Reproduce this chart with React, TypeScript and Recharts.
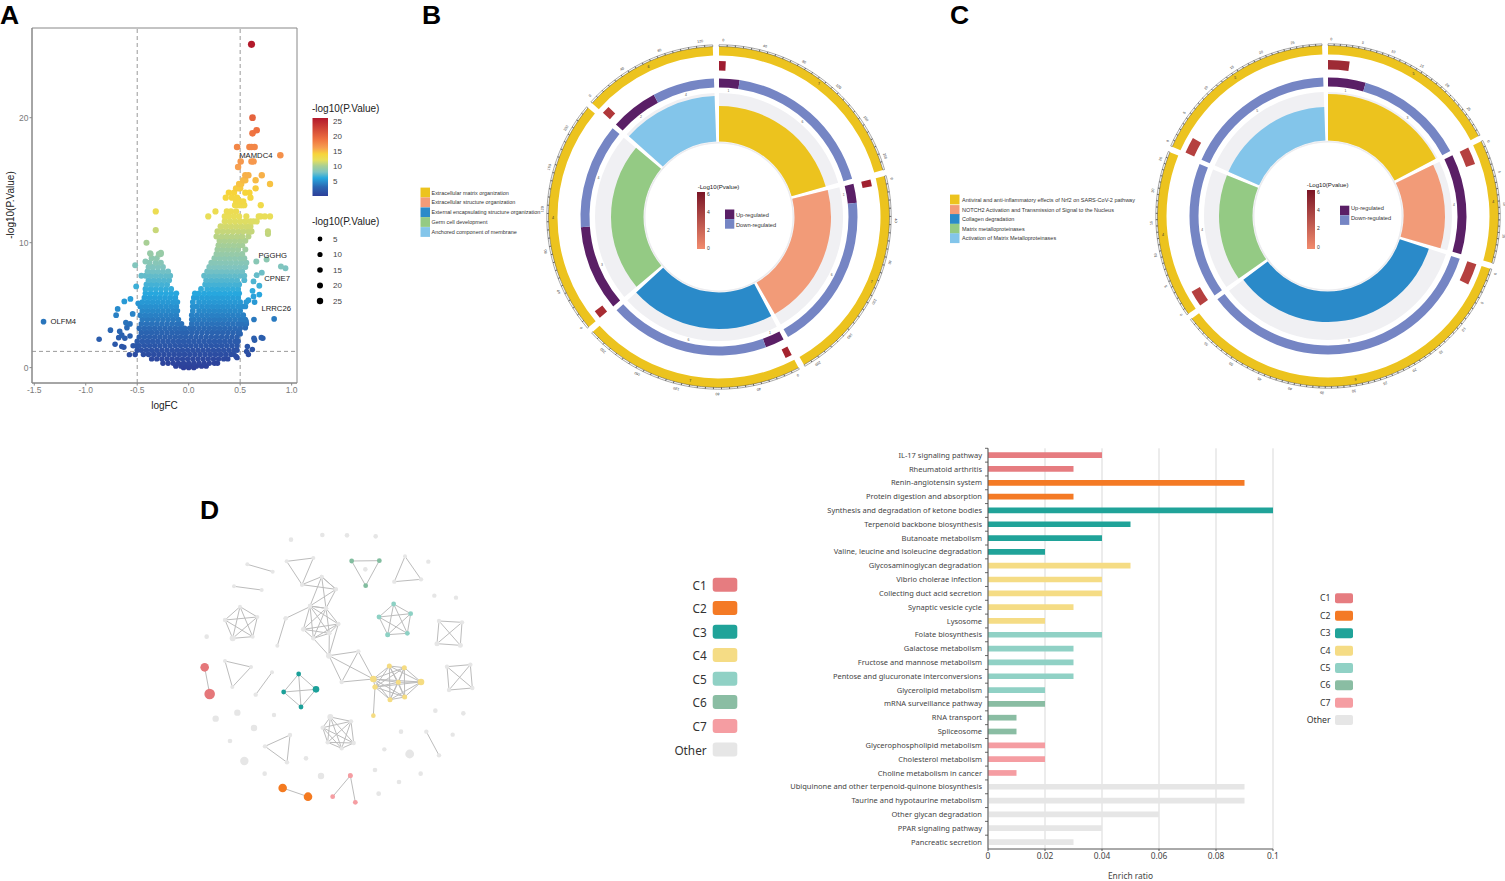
import {
  BarChart,
  Bar,
  Cell,
  XAxis,
  YAxis,
  CartesianGrid,
  ScatterChart,
  Scatter,
  ReferenceLine,
  ReferenceArea,
  PieChart,
  Pie,
} from "recharts";

const SANS = "'Liberation Sans', Arial, sans-serif";
const UI = "'Noto Sans', 'Open Sans', sans-serif";

// ---- panel A: volcano, rows of logFC values at one -log10(p) level
const volcanoRows: [number, number[]][] = [
  [0, [-.05, 0, .05]],
  [.12, [-.125, -.075, -.025, .025, .075, .125, .17]],
  [.35, [-.25, -.2, -.15, -.1, -.05, 0, .05, .1, .15, .2, .25, .28]],
  [.7, [-.36, -.31, -.26, -.21, -.16, -.11, -.06, -.01, .04, .09, .14, .19, .24, .29, .34, .38]],
  [1.05, [-.52, -.44, -.39, -.34, -.29, -.24, -.19, -.14, -.09, -.04, .01, .06, .11, .16, .21, .26, .31, .36, .41, .44, .58]],
  [1.4, [-.5, -.46, -.41, -.36, -.31, -.26, -.21, -.16, -.11, -.06, -.01, .04, .09, .14, .19, .24, .29, .34, .39, .44, .47]],
  [1.75, [-.54, -.51, -.48, -.43, -.38, -.33, -.28, -.23, -.18, -.13, -.08, -.03, .02, .07, .12, .17, .22, .27, .32, .37, .42, .47]],
  [2.1, [-.5, -.45, -.4, -.35, -.3, -.25, -.2, -.15, -.1, -.05, 0, .05, .1, .15, .2, .25, .3, .35, .4, .45, .48]],
  [2.45, [-.48, -.43, -.38, -.33, -.28, -.23, -.18, -.13, -.08, -.03, .02, .07, .12, .17, .22, .27, .32, .37, .42, .47]],
  [2.8, [-.46, -.41, -.36, -.31, -.26, -.21, -.16, -.11, -.06, -.02, .03, .08, .13, .18, .23, .28, .33, .38, .43, .48]],
  [3.15, [-.48, -.43, -.38, -.33, -.28, -.23, -.18, -.13, -.08, -.04, .01, .05, .1, .15, .2, .25, .3, .35, .4, .45, .5]],
  [3.5, [-.46, -.41, -.36, -.31, -.26, -.21, -.16, -.11, -.07, .03, .08, .13, .18, .23, .28, .33, .38, .43, .48, .52]],
  [3.85, [-.45, -.4, -.35, -.3, -.25, -.2, -.15, -.1, .03, .05, .1, .15, .2, .25, .3, .35, .4, .45, .5, .55]],
  [4.2, [-.47, -.42, -.37, -.32, -.27, -.22, -.17, -.12, .03, .08, .13, .18, .23, .28, .33, .38, .43, .48, .53]],
  [4.55, [-.45, -.4, -.35, -.3, -.25, -.2, -.15, -.11, .04, .1, .15, .2, .25, .3, .35, .4, .45, .5]],
  [4.9, [-.47, -.42, -.37, -.32, -.27, -.22, -.17, -.12, .04, .08, .13, .18, .23, .28, .33, .38, .43, .48, .52, .55]],
  [5.25, [-.45, -.4, -.35, -.3, -.25, -.2, -.15, -.11, .04, .1, .15, .2, .25, .3, .35, .4, .45, .5, .56]],
  [5.6, [-.43, -.38, -.33, -.28, -.23, -.18, -.13, .05, .08, .13, .18, .23, .28, .33, .38, .43, .48]],
  [5.95, [-.42, -.37, -.32, -.27, -.22, -.17, -.12, .06, .1, .15, .2, .25, .3, .35, .4, .45, .49]],
  [6.3, [-.42, -.37, -.32, -.27, -.22, -.17, .12, .18, .23, .28, .33, .38, .43, .48]],
  [6.65, [-.41, -.36, -.31, -.26, -.21, .16, .2, .25, .3, .35, .4, .45, .49]],
  [7, [-.39, -.34, -.29, -.24, -.19, .17, .22, .27, .32, .37, .42, .47, .54]],
  [7.35, [-.46, -.42, -.37, -.32, -.27, -.22, -.18, .15, .2, .25, .3, .35, .4, .45, .5, .54]],
  [7.7, [-.4, -.35, -.3, -.25, -.2, .18, .22, .27, .32, .37, .42, .47, .52]],
  [8.05, [-.39, -.35, -.3, -.25, .2, .25, .3, .35, .4, .45, .5, .55]],
  [8.4, [-.38, -.32, -.27, .22, .26, .31, .36, .41, .46, .51, .56]],
  [8.75, [-.36, -.31, .25, .3, .35, .4, .45, .5, .54]],
  [9.1, [-.37, -.29, -.27, .27, .32, .37, .42, .47, .52]],
  [9.45, [.28, .33, .38, .43, .48, .55]],
  [9.8, [.29, .34, .39, .44, .49, .52]],
  [10.15, [.3, .35, .4, .45, .5, .55]],
  [10.5, [.27, .32, .37, .42, .47, .52, .58]],
  [10.9, [.28, .33, .38, .43, .48, .53, .58, .61, .77]],
  [11.3, [.31, .36, .41, .46, .51, .56, .6]],
  [11.7, [.35, .4, .45, .5, .55, .6, .63, .66]],
  [12.1, [.19, .35, .39, .44, .49, .56, .68, .7, .74, .79]],
  [12.5, [.26, .37, .41, .46]],
  [13, [.45, .48, .5, .52, .54, .7]],
  [13.3, [.46, .5, .53]],
  [13.6, [.36, .42, .47, .6]],
  [14, [.39, .44, .55, .59]],
  [14.35, [.46, .48, .5, .65]],
  [14.7, [.49, .51, .79]],
  [15, [.53, .55, .65]],
  [15.4, [.55, .58, .71]],
  [16.05, [.48]],
  [16.5, [.505, .61, .63]],
  [17, [.89]],
  [17.65, [.47, .59, .61, .64]],
  [18.75, [.62]],
  [19, [.66]],
  [20, [.62]],
  [25.87, [.61]],
];

// points off the main cloud
const volcanoOutliers: [number, number][] = [
  [-1.41, 3.68], [-.87, 2.27], [-.76, 3], [-.715, 1.87], [-.69, 4.7], [-.705, 4.2], [-.625, 5.3], [-.566, 5.5],
  [-.61, 3.6], [-.57, 3.5], [-.6, 3.2], [-.67, 2.9], [-.65, 2.6], [-.68, 2.4], [-.62, 2.35], [-.65, 1.7], [-.63, 1.63],
  [-.57, 2.53], [-.576, 1.04], [-.544, 4.3], [-.51, 6.5], [-.49, 5.15], [-.52, 8.2], [-.41, 10], [-.375, 9.15],
  [-.285, 9.05], [-.27, 9.2], [-.32, 11], [-.32, 12.5], [-.42, 8.5],
  [.657, 8.5], [.757, 8.65], [.896, 8.1], [.94, 7.95], [.71, 7.6], [.66, 7.4], [.63, 6.9], [.686, 6.55], [.62, 6.15],
  [.686, 5.85], [.63, 5.7], [.58, 5.4], [.64, 5.25], [.634, 3.85], [.83, 3.9], [.557, 3.7], [.705, 2.4], [.72, 2.35],
  [.634, 2.35], [.64, 2.2], [.57, 1.7], [.618, 1.45], [.563, 1.3], [.46, .9], [.47, .8], [.55, 3.2], [.5, 2.7], [.49, 2.9],
  [.6, 10.9], [.77, 10.7], [.56, 3.5], [.53, 3.9],
];

const geneLabels = [
  { x: .652, y: 17, name: "MAMDC4" },
  { x: .817, y: 8.94, name: "PGGHG" },
  { x: .859, y: 7.1, name: "CPNE7" },
  { x: .85, y: 4.75, name: "LRRC26" },
  { x: -1.218, y: 3.68, name: "OLFM4" },
];

const volcanoXTicks = [-1.5, -1, -.5, 0, .5, 1];
const volcanoYTicks = [0, 10, 20];
const colorLegendTicks = [5, 10, 15, 20, 25];
const sizeLegendTicks = [5, 10, 15, 20, 25];

const volcanoStops: [number, string][] = [
  [0, "#2d3f99"], [3, "#2a66b2"], [6, "#27a8df"], [8, "#7fc4c0"], [10, "#a8cf95"],
  [12, "#e8df5a"], [14, "#f7d43a"], [16, "#f7a050"], [19, "#ee7040"], [26, "#b2182b"],
];

const hexToRgb = (h: string) => [1, 3, 5].map((i) => parseInt(h.slice(i, i + 2), 16));

function volcanoColor(y: number) {
  for (let i = 1; i < volcanoStops.length; i++) {
    const [y0, c0] = volcanoStops[i - 1];
    const [y1, c1] = volcanoStops[i];
    if (y <= y1) {
      const t = (y - y0) / (y1 - y0);
      const a = hexToRgb(c0);
      const b = hexToRgb(c1);
      return `rgb(${a.map((v, k) => Math.round(v + (b[k] - v) * t)).join(",")})`;
    }
  }
  return volcanoStops[volcanoStops.length - 1][1];
}

const volcanoData = [
  ...volcanoRows.flatMap(([y, xs]) => xs.map((x) => ({ x, y }))),
  ...volcanoOutliers.map(([x, y]) => ({ x, y })),
].sort((a, b) => a.y - b.y);

function VolcanoDot(props: any) {
  const { cx, cy, payload } = props;
  return <circle cx={cx} cy={cy} r={2.7 + payload.y * 0.033} fill={volcanoColor(payload.y)} />;
}

function GeneLabel(props: any) {
  const { cx, cy, payload } = props;
  return (
    <text x={cx} y={cy} textAnchor="middle" dominantBaseline="central" fontSize={7.7} fontFamily={SANS} fill="#222">
      {payload.name}
    </text>
  );
}

function VolcanoPanel() {
  const dash = { stroke: "#9a9a9a", strokeDasharray: "4 3", strokeWidth: 1 };
  const tick = { fontSize: 8.5, fill: "#7a7a7a", fontFamily: SANS };
  return (
    <div style={{ position: "absolute", left: 0, top: 0 }}>
      <ScatterChart width={400} height={420} margin={{ top: 28, left: 0, right: 103, bottom: 0 }}>
        <XAxis
          type="number"
          dataKey="x"
          domain={[-1.522, 1.052]}
          ticks={volcanoXTicks}
          allowDataOverflow
          height={37}
          tickSize={2.5}
          tickMargin={1}
          tick={tick}
          stroke="#888"
          tickFormatter={(v) => Number(v).toFixed(1)}
          label={{ value: "logFC", position: "insideBottom", offset: 11, fontSize: 10, fill: "#222", fontFamily: SANS }}
        />
        <YAxis
          type="number"
          dataKey="y"
          domain={[-1.23, 27.18]}
          ticks={volcanoYTicks}
          allowDataOverflow
          width={32}
          tickSize={2.5}
          tickMargin={1}
          tick={tick}
          stroke="#888"
        />
        <ReferenceArea x1={-1.522} x2={1.052} y1={-1.23} y2={27.18} fill="none" stroke="#888" strokeWidth={1} />
        <Scatter data={volcanoData} shape={VolcanoDot} isAnimationActive={false} />
        <ReferenceLine x={-.5} {...dash} />
        <ReferenceLine x={.5} {...dash} />
        <ReferenceLine y={1.3} {...dash} />
        <Scatter data={geneLabels} shape={GeneLabel} isAnimationActive={false} />
      </ScatterChart>
    </div>
  );
}

// ---- panels B and C: circular enrichment plots, all values in degrees of arc
const bSpans = [74, 74, 75.5, 80, 46];
const bWedgeOuter = [111, 112, 112, 108, 121];
const bUp = [8.6, 8, 8, 36, 20];
const bDown = [65.4, 66, 67.5, 44, 26];
const bUpCounts = ["1", "1", "1", "3", "2"];
const bDownCounts = ["6", "6", "6", "4", "4"];
const bPWidth = [2.5, 2.5, 2.5, 3, 3];
const bPColor = ["#9e1c30", "#a0202f", "#a5242f", "#a82c33", "#b0383a"];
const bTickCounts = [27, 27, 28, 29, 17];
const bCountLabels = ["7", "7", "7", "4", "6"];

const cSpans = [62, 42, 125, 57, 64];
const cWedgeOuter = [122, 117, 106, 109, 109];
const cUp = [15.8, 42, 0, 0, 0];
const cDown = [46.2, 0, 125, 57, 64];
const cUpCounts = ["1", "4", "", "", ""];
const cDownCounts = ["3", "", "9", "4", "5"];
const cPWidth = [8, 6.5, 8, 6, 6];
const cPColor = ["#9e2a35", "#b5403f", "#b5403f", "#b5403f", "#b5403f"];
const cTickCounts = [30, 20, 60, 27, 30];
const cCountLabels = ["5", "4", "9", "4", "5"];

const wedgeColors = ["#ecc31e", "#f29b78", "#2a8ac9", "#94ca84", "#83c5ea"];
const UP_COLOR = "#5a1f66";
const DOWN_COLOR = "#7585c4";
const TRACK_COLOR = "#f0f0f3";

function tickLabel(p: any) {
  const text = p.payload?.text ?? p.text;
  if (!text) return <g />;
  const rad = (-p.midAngle * Math.PI) / 180;
  const r = p.outerRadius + 4.5;
  const x = p.cx + r * Math.cos(rad);
  const y = p.cy + r * Math.sin(rad);
  return (
    <text x={x} y={y} fontSize={3.6} fill="#333" fontFamily={SANS} textAnchor="middle" dominantBaseline="central"
      transform={`rotate(${90 - p.midAngle} ${x} ${y})`}>
      {text}
    </text>
  );
}

function midLabel(p: any) {
  const text = p.payload?.text ?? p.text;
  const rad = (-p.midAngle * Math.PI) / 180;
  const r = (p.innerRadius + p.outerRadius) / 2;
  return (
    <text x={p.cx + r * Math.cos(rad)} y={p.cy + r * Math.sin(rad)} fontSize={3.6} fill="#333" fontFamily={SANS}
      textAnchor="middle" dominantBaseline="central">
      {text}
    </text>
  );
}

function innerLabel(p: any) {
  const text = p.payload?.text ?? p.text;
  if (!text) return <g />;
  const rad = (-p.midAngle * Math.PI) / 180;
  const r = p.innerRadius - 3;
  return (
    <text x={p.cx + r * Math.cos(rad)} y={p.cy + r * Math.sin(rad)} fontSize={3.4} fill="#555" fontFamily={SANS}
      textAnchor="middle" dominantBaseline="central">
      {text}
    </text>
  );
}

interface DonutProps {
  cx: number;
  cy: number;
  spans: number[];
  gap: number;
  wedgeOuter: number[];
  up: number[];
  down: number[];
  upCounts: string[];
  downCounts: string[];
  pWidth: number[];
  pColor: string[];
  tickCounts: number[];
  tickStep: number;
  countLabels: string[];
}

function Donut({ cx, cy, spans, gap, wedgeOuter, up, down, upCounts, downCounts, pWidth, pColor, tickCounts, tickStep, countLabels }: DonutProps) {
  const size = 380;
  const common = { dataKey: "value", isAnimationActive: false, stroke: "none", labelLine: false };
  let cursor = 0;
  const sectors = spans.map((span, i) => {
    const a0 = cursor;
    cursor += span + gap;
    return { i, span, a0, start: 90 - a0, end: 90 - a0 - span };
  });
  return (
    <div style={{ position: "absolute", left: cx - size / 2, top: cy - size / 2 }}>
      <PieChart width={size} height={size} margin={{ top: 0, right: 0, bottom: 0, left: 0 }}>
        <Pie {...common} data={[{ value: 1 }]} startAngle={90} endAngle={-270} innerRadius={73.5} outerRadius={75} fill="#ececef" />
        {sectors.map(({ i, start, end }) => (
          <Pie key={`tr${i}`} {...common} data={[{ value: 1 }]} startAngle={start} endAngle={end} innerRadius={75} outerRadius={124} fill={TRACK_COLOR} />
        ))}
        {sectors.map(({ i, start, end }) => (
          <Pie key={`w${i}`} {...common} data={[{ value: 1 }]} startAngle={start} endAngle={end} innerRadius={75.5} outerRadius={wedgeOuter[i]} fill={wedgeColors[i]} />
        ))}
        {sectors.map(({ i, start, end }) => (
          <Pie
            key={`ud${i}`}
            {...common}
            data={[
              { value: up[i], fill: UP_COLOR, text: upCounts[i] },
              { value: down[i], fill: DOWN_COLOR, text: downCounts[i] },
            ].filter((d) => d.value > 0)}
            startAngle={start}
            endAngle={end}
            innerRadius={129.5}
            outerRadius={138.5}
            label={innerLabel}
          />
        ))}
        {sectors.map(({ i, start }) => (
          <Pie key={`p${i}`} {...common} data={[{ value: 1 }]} startAngle={start} endAngle={start - pWidth[i]} innerRadius={146.5} outerRadius={156} fill={pColor[i]} />
        ))}
        {sectors.map(({ i, start, end }) => (
          <Pie
            key={`o${i}`}
            {...common}
            data={[{ value: 1, text: countLabels[i] }]}
            startAngle={start}
            endAngle={end}
            innerRadius={161.5}
            outerRadius={170.5}
            fill={wedgeColors[0]}
            label={midLabel}
          />
        ))}
        {sectors.map(({ i, start, end }) => (
          <Pie
            key={`t${i}`}
            {...common}
            data={Array.from({ length: tickCounts[i] }, (_, j) => ({
              value: 1,
              text: j % 5 === 0 ? String((j / 5) * tickStep) : "",
            }))}
            startAngle={start}
            endAngle={end}
            innerRadius={170.5}
            outerRadius={172.2}
            fill="none"
            stroke="#222"
            strokeWidth={0.4}
            label={tickLabel}
          />
        ))}
      </PieChart>
    </div>
  );
}

// ---- panel D: enrichment network, positions in a 960 x 990 layout box
const networkCliques: { color: string; nodes: [number, number, number][] }[] = [
  { color: "#e6e6e6", nodes: [[202, 223, 2], [278, 245, 2]] },
  { color: "#e6e6e6", nodes: [[162, 289, 2], [245, 300, 2]] },
  { color: "#e6e6e6", nodes: [[320, 214, 2], [400, 204, 2], [366, 284, 2]] },
  { color: "#e6e6e6", nodes: [[366, 284, 2], [425, 260, 2], [468, 298, 2]] },
  { color: "#e6e6e6", nodes: [[425, 260, 2], [468, 298, 2], [390, 348, 2.2], [438, 355, 2.2]] },
  { color: "#e6e6e6", nodes: [[390, 348, 2.2], [438, 355, 2.2], [475, 402, 2.2], [370, 418, 2.4], [400, 445, 2.2], [448, 430, 2.2]] },
  { color: "#e6e6e6", nodes: [[317, 385, 2.2], [390, 350, 2]] },
  { color: "#e6e6e6", nodes: [[317, 385, 2.2], [292, 467, 2]] },
  { color: "#e6e6e6", nodes: [[447, 497, 2.6], [475, 402, 2]] },
  { color: "#e6e6e6", nodes: [[447, 497, 2.6], [400, 445, 2]] },
  { color: "#e6e6e6", nodes: [[447, 497, 2.6], [448, 430, 2]] },
  { color: "#e6e6e6", nodes: [[447, 497, 2.6], [535, 484, 2.2], [485, 576, 2.2], [580, 567, 3]] },
  { color: "#e6e6e6", nodes: [[180, 350, 2], [232, 381, 2], [218, 440, 2], [158, 445, 3], [135, 390, 2.2]] },
  { color: "#e6e6e6", nodes: [[135, 513, 2], [213, 531, 2], [157, 591, 2]] },
  { color: "#e6e6e6", nodes: [[276, 547, 2], [227, 614, 2.2]] },
  { color: "#e6e6e6", nodes: [[675, 199, 2], [723, 268, 2.2], [643, 275, 2.2]] },
  { color: "#e6e6e6", nodes: [[777, 393, 2.2], [846, 397, 2.2], [841, 466, 2.5], [771, 461, 2.5]] },
  { color: "#e6e6e6", nodes: [[801, 530, 2.2], [871, 524, 2.2], [877, 594, 2.2], [807, 600, 2.2]] },
  { color: "#e6e6e6", nodes: [[451, 681, 3], [513, 694, 2.2], [521, 759, 2.2], [485, 775, 2.2], [443, 757, 2.2], [428, 713, 2.2]] },
  { color: "#e6e6e6", nodes: [[330, 735, 2.2], [255, 769, 2.2], [321, 817, 2.2]] },
  { color: "#e6e6e6", nodes: [[739, 725, 2.2], [777, 796, 2.2]] },
  { color: "#f5dc82", nodes: [[580, 567, 3.3], [585, 591, 2.5], [628, 528, 2.5], [673, 533, 2.5], [655, 577, 2.5], [723, 576, 3.3], [630, 629, 2.5], [674, 621, 2.5]] },
  { color: "#f5dc82", nodes: [[585, 591, 2.5], [580, 677, 2.3]] },
  { color: "#e5777a", nodes: [[74, 532, 4.3], [89, 612, 5.3]] },
  { color: "#1ba099", nodes: [[356, 552, 2.4], [408, 598, 3.3], [363, 651, 2.4], [311, 606, 2.4]] },
  { color: "#82bd9f", nodes: [[515, 213, 2.4], [598, 212, 2.4], [557, 287, 2.4]] },
  { color: "#8dd1c4", nodes: [[641, 342, 2.4], [692, 371, 2.4], [682, 430, 2.4], [623, 434, 2.5], [597, 381, 2.4]] },
  { color: "#f47a20", nodes: [[308, 894, 4.3], [384, 920, 4.3]] },
  { color: "#f59da2", nodes: [[511, 857, 2.4], [458, 920, 2.4]] },
  { color: "#f59da2", nodes: [[511, 857, 2.4], [526, 937, 2.4]] },
];

const networkSingles: [number, number, number][] = [
  [333, 149, 2.3], [427, 135, 2.3], [501, 136, 2.3], [587, 139, 2.3], [556, 238, 2.3], [745, 215, 2.2], [763, 317, 2.2],
  [828, 323, 2.2], [80, 440, 2.3], [107, 686, 3.2], [172, 668, 3.2], [222, 714, 3.2], [282, 675, 2.2], [150, 753, 2.3],
  [193, 813, 4.2], [254, 851, 2.3], [378, 805, 2.3], [423, 858, 3.2], [766, 662, 2.3], [850, 670, 2.3], [663, 725, 2.3],
  [818, 734, 2.2], [613, 778, 2.2], [689, 792, 4.4], [585, 840, 2.3], [722, 851, 2.3], [657, 876, 2.3], [596, 911, 2.4],
];

const networkEdges = networkCliques.flatMap((c) =>
  c.nodes.flatMap((a, i) => c.nodes.slice(i + 1).map((b) => [a, b])),
);

function NetDot(props: any) {
  const { cx, cy, payload, fill } = props;
  return <circle cx={cx} cy={cy} r={payload.r} fill={fill} />;
}
const NoDot = () => <g />;

function NetworkPanel() {
  return (
    <div style={{ position: "absolute", left: 180, top: 490 }}>
      <ScatterChart width={320} height={330} margin={{ top: 0, right: 0, bottom: 0, left: 0 }}>
        <XAxis type="number" dataKey="x" domain={[0, 960]} hide />
        <YAxis type="number" dataKey="y" domain={[0, 990]} reversed hide />
        {networkEdges.map(([a, b], i) => (
          <Scatter
            key={`e${i}`}
            data={[{ x: a[0], y: a[1] }, { x: b[0], y: b[1] }]}
            shape={NoDot}
            line={{ stroke: "#bcbcbc", strokeWidth: 1 }}
            isAnimationActive={false}
          />
        ))}
        <Scatter
          data={networkSingles.map(([x, y, r]) => ({ x, y, r }))}
          fill="#e6e6e6"
          shape={NetDot}
          isAnimationActive={false}
        />
        {networkCliques.map((c, i) => (
          <Scatter
            key={`n${i}`}
            data={c.nodes.map(([x, y, r]) => ({ x, y, r }))}
            fill={c.color}
            shape={NetDot}
            isAnimationActive={false}
          />
        ))}
      </ScatterChart>
    </div>
  );
}

// ---- panel D right: enrichment bars
const pathwayNames = [
  "IL-17 signaling pathway",
  "Rheumatoid arthritis",
  "Renin-angiotensin system",
  "Protein digestion and absorption",
  "Synthesis and degradation of ketone bodies",
  "Terpenoid backbone biosynthesis",
  "Butanoate metabolism",
  "Valine, leucine and isoleucine degradation",
  "Glycosaminoglycan degradation",
  "Vibrio cholerae infection",
  "Collecting duct acid secretion",
  "Synaptic vesicle cycle",
  "Lysosome",
  "Folate biosynthesis",
  "Galactose metabolism",
  "Fructose and mannose metabolism",
  "Pentose and glucuronate interconversions",
  "Glycerolipid metabolism",
  "mRNA surveillance pathway",
  "RNA transport",
  "Spliceosome",
  "Glycerophospholipid metabolism",
  "Cholesterol metabolism",
  "Choline metabolism in cancer",
  "Ubiquinone and other terpenoid-quinone biosynthesis",
  "Taurine and hypotaurine metabolism",
  "Other glycan degradation",
  "PPAR signaling pathway",
  "Pancreatic secretion",
];
const enrichRatios = [
  .04, .03, .09, .03, .1, .05, .04, .02, .05, .04, .04, .03, .02, .04, .03, .03, .03, .02, .02, .01, .01, .02, .02, .01,
  .09, .09, .06, .04, .03,
];
const pathwayClusters = [0, 0, 1, 1, 2, 2, 2, 2, 3, 3, 3, 3, 3, 4, 4, 4, 4, 4, 5, 5, 5, 6, 6, 6, 7, 7, 7, 7, 7];
const clusterNames = ["C1", "C2", "C3", "C4", "C5", "C6", "C7", "Other"];
const clusterColors = ["#e67c80", "#f47a25", "#20a399", "#f5dc85", "#90d1c5", "#8abda3", "#f59da2", "#e6e6e6"];
const ratioTicks = [0, .02, .04, .06, .08, .1];

const barData = pathwayNames.map((name, i) => ({ name, ratio: enrichRatios[i] }));

function PathwayTick(props: any) {
  const { x, y, payload } = props;
  return (
    <g>
      <line x1={x + 3} x2={x + 6} y1={y - 6.9} y2={y - 6.9} stroke="#444" strokeWidth={0.8} />
      <text x={x} y={y - 0.5} textAnchor="end" dominantBaseline="central" fontSize={7.5} fontFamily={UI} fill="#444">
        {payload.value}
      </text>
    </g>
  );
}

function BarPanel() {
  return (
    <div style={{ position: "absolute", left: 780, top: 440 }}>
      <BarChart layout="vertical" data={barData} width={520} height={441} margin={{ top: 8.3, right: 27, bottom: 0, left: 0 }}>
        <CartesianGrid horizontal={false} stroke="#d9d9d9" />
        <XAxis
          type="number"
          domain={[0, .1]}
          ticks={ratioTicks}
          height={32}
          stroke="#555"
          tickSize={2}
          tickMargin={2}
          tick={{ fontSize: 8.4, fill: "#444", fontFamily: UI }}
          label={{ value: "Enrich ratio", position: "insideBottom", offset: 2, fontSize: 8.4, fill: "#444", fontFamily: UI }}
        />
        <YAxis
          type="category"
          dataKey="name"
          width={208}
          interval={0}
          tickSize={0}
          tickMargin={6}
          stroke="#555"
          tick={PathwayTick}
        />
        <Bar dataKey="ratio" barSize={5.7} isAnimationActive={false}>
          {barData.map((d, i) => (
            <Cell key={d.name} fill={clusterColors[pathwayClusters[i]]} />
          ))}
        </Bar>
      </BarChart>
    </div>
  );
}

// ---- legends and panel letters
const bLegendNames = [
  "Extracellular matrix organization",
  "Extracellular structure organization",
  "External encapsulating structure organization",
  "Germ cell development",
  "Anchored component of membrane",
];
const cLegendNames = [
  "Antiviral and anti-inflammatory effects of Nrf2 on SARS-CoV-2 pathway",
  "NOTCH2 Activation and Transmission of Signal to the Nucleus",
  "Collagen degradation",
  "Matrix metalloproteinases",
  "Activation of Matrix Metalloproteinases",
];
const panelLetters: [string, number, number][] = [["A", 0, 24], ["B", 422, 24], ["C", 950, 24], ["D", 200, 519]];
const pvalueTicks = [6, 4, 2, 0];

function DonutLegend({ names, ys, x, tx, fs }: { names: string[]; ys: number[]; x: number; tx: number; fs: number }) {
  return (
    <>
      {names.map((n, i) => (
        <g key={n}>
          <rect x={x} y={ys[i] - 4.9} width={9.5} height={9.8} fill={wedgeColors[i]} />
          <text x={tx} y={ys[i]} fontSize={fs} dominantBaseline="central" fontFamily={SANS} fill="#333">{n}</text>
        </g>
      ))}
    </>
  );
}

function CenterLegend({ id, tx, ty, gx, gy, gh, tickYs, sx, sy, labelYs }: any) {
  return (
    <>
      <text x={tx} y={ty} fontSize={6.1} textAnchor="middle" dominantBaseline="central" fontFamily={SANS} fill="#222">-Log10(Pvalue)</text>
      <defs>
        <linearGradient id={id} x1="0" y1="0" x2="0" y2="1">
          <stop offset="0%" stopColor="#7a1526" />
          <stop offset="100%" stopColor="#f28c6e" />
        </linearGradient>
      </defs>
      <rect x={gx} y={gy} width={8} height={gh} fill={`url(#${id})`} />
      {pvalueTicks.map((t, i) => (
        <text key={t} x={gx + 10} y={tickYs[i]} fontSize={5} dominantBaseline="central" fontFamily={SANS} fill="#333">{t}</text>
      ))}
      <rect x={sx} y={sy} width={9.3} height={9.6} fill={UP_COLOR} />
      <rect x={sx} y={sy + 9.6} width={9.3} height={9.6} fill={DOWN_COLOR} />
      <text x={sx + 11} y={labelYs[0]} fontSize={5.7} dominantBaseline="central" fontFamily={SANS} fill="#333">Up-regulated</text>
      <text x={sx + 11} y={labelYs[1]} fontSize={5.7} dominantBaseline="central" fontFamily={SANS} fill="#333">Down-regulated</text>
    </>
  );
}

function ClusterLegend({ tx, sx, sw, sh, ys, fs, rx }: { tx: number; sx: number; sw: number; sh: number; ys: number[]; fs: number; rx: number }) {
  return (
    <>
      {clusterNames.map((n, i) => (
        <g key={n}>
          <text x={tx} y={ys[i]} fontSize={fs} textAnchor="end" dominantBaseline="central" fontFamily={UI} fill="#333">{n}</text>
          <rect x={sx} y={ys[i] - sh / 2} width={sw} height={sh} rx={rx} fill={clusterColors[i]} />
        </g>
      ))}
    </>
  );
}

function Overlay() {
  return (
    <svg width={1505} height={881} style={{ position: "absolute", left: 0, top: 0 }}>
      {panelLetters.map(([l, x, y]) => (
        <text key={l} x={x} y={y} fontSize={26.5} fontWeight={700} fontFamily={SANS} fill="#000">{l}</text>
      ))}

      {/* panel A */}
      <text x={10.5} y={205} fontSize={10} textAnchor="middle" dominantBaseline="central" fontFamily={SANS} fill="#222" transform="rotate(-90 10.5 205)">-log10(P.Value)</text>
      <text x={312} y={108.5} fontSize={10} dominantBaseline="central" fontFamily={SANS} fill="#222">-log10(P.Value)</text>
      <defs>
        <linearGradient id="volcanoScale" x1="0" y1="1" x2="0" y2="0">
          {volcanoStops.map(([v, c]) => (
            <stop key={v} offset={`${(v / 26) * 100}%`} stopColor={c} />
          ))}
        </linearGradient>
      </defs>
      <rect x={312.5} y={118} width={15.5} height={78} fill="url(#volcanoScale)" />
      {colorLegendTicks.map((t, i) => (
        <text key={t} x={333} y={181 - i * 15} fontSize={8} dominantBaseline="central" fontFamily={SANS} fill="#444">{t}</text>
      ))}
      <text x={312} y={221} fontSize={10} dominantBaseline="central" fontFamily={SANS} fill="#222">-log10(P.Value)</text>
      {sizeLegendTicks.map((t, i) => (
        <g key={t}>
          <circle cx={320} cy={239 + i * 15.5} r={2.4 + i * 0.2} fill="#000" />
          <text x={333} y={239 + i * 15.5} fontSize={8} dominantBaseline="central" fontFamily={SANS} fill="#444">{t}</text>
        </g>
      ))}

      {/* panels B, C */}
      <DonutLegend names={bLegendNames} ys={[192.5, 202.3, 212.3, 222, 232]} x={420.5} tx={431.5} fs={5.45} />
      <CenterLegend id="pB" tx={718.5} ty={186} gx={697} gy={192} gh={57} tickYs={[193.5, 212, 230, 248]} sx={725} sy={209.5} labelYs={[214.5, 224.5]} />
      <DonutLegend names={cLegendNames} ys={[199.5, 210, 219, 228.7, 238.2]} x={950} tx={962} fs={5.5} />
      <CenterLegend id="pC" tx={1327.7} ty={184.3} gx={1307} gy={190} gh={59} tickYs={[191.7, 210, 228, 246.7]} sx={1340} sy={205.7} labelYs={[208.3, 218]} />

      {/* cluster legends */}
      <ClusterLegend tx={706.7} sx={712.7} sw={24.6} sh={14} rx={3} fs={11.8} ys={[584.7, 608, 631.7, 655, 678.7, 702, 726, 749.5]} />
      <ClusterLegend tx={1330.5} sx={1335} sw={18} sh={10} rx={2} fs={8.7} ys={[598.3, 615.7, 633.3, 650.7, 668, 685.3, 702.7, 720]} />
    </svg>
  );
}

export default function App() {
  return (
    <div style={{ position: "absolute", left: 0, top: 0, width: 1505, height: 881, background: "#fff", overflow: "hidden" }}>
      <Overlay />
      <VolcanoPanel />
      <Donut cx={718.5} cy={217} spans={bSpans} gap={2.1} wedgeOuter={bWedgeOuter} up={bUp} down={bDown} upCounts={bUpCounts} downCounts={bDownCounts} pWidth={bPWidth} pColor={bPColor} tickCounts={bTickCounts} tickStep={40} countLabels={bCountLabels} />
      <Donut cx={1328} cy={215.5} spans={cSpans} gap={2} wedgeOuter={cWedgeOuter} up={cUp} down={cDown} upCounts={cUpCounts} downCounts={cDownCounts} pWidth={cPWidth} pColor={cPColor} tickCounts={cTickCounts} tickStep={5} countLabels={cCountLabels} />
      <NetworkPanel />
      <BarPanel />
    </div>
  );
}
